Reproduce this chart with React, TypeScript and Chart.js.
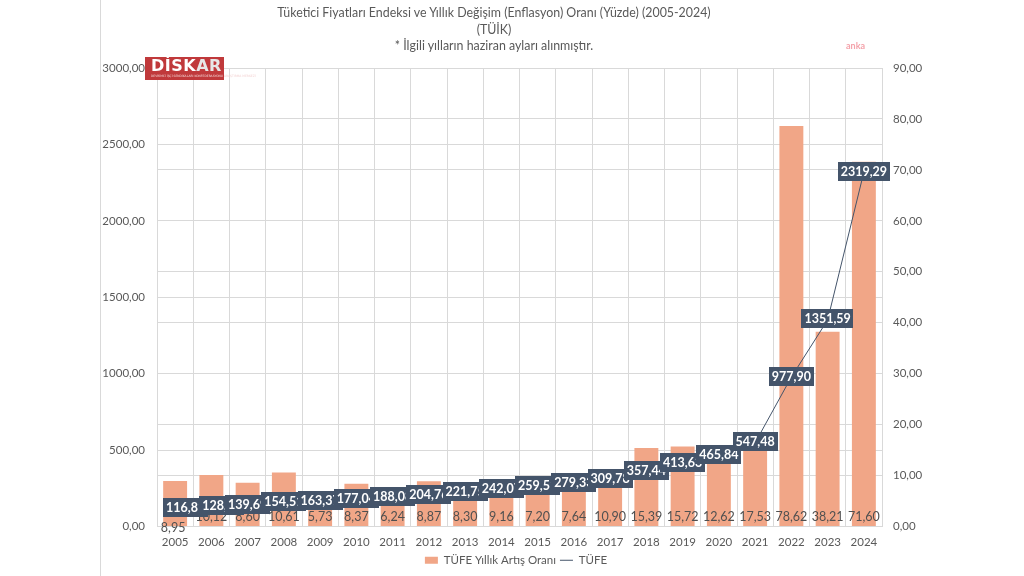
import React, { useEffect, useRef } from "react";
import { Chart, registerables } from "chart.js";

Chart.register(...registerables);

const years: string[] = ["2005", "2006", "2007", "2008", "2009", "2010", "2011", "2012", "2013", "2014", "2015", "2016", "2017", "2018", "2019", "2020", "2021", "2022", "2023", "2024"];
const tufeIndex: number[] = [116.81, 128.62, 139.69, 154.51, 163.37, 177.04, 188.08, 204.76, 221.75, 242.07, 259.51, 279.33, 309.78, 357.44, 413.63, 465.84, 547.48, 977.9, 1351.59, 2319.29];
const annualRate: number[] = [8.95, 10.12, 8.6, 10.61, 5.73, 8.37, 6.24, 8.87, 8.3, 9.16, 7.2, 7.64, 10.9, 15.39, 15.72, 12.62, 17.53, 78.62, 38.21, 71.6];
const titleLines: string[] = [
  "Tüketici Fiyatları Endeksi ve Yıllık Değişim (Enflasyon) Oranı (Yüzde) (2005-2024)",
  "(TÜİK)",
  "* İlgili yılların haziran ayları alınmıştır.",
];
const barLabel = "TÜFE Yıllık Artış Oranı";
const lineLabel = "TÜFE";

const FONT = "Lato, 'Open Sans', sans-serif";
const GREY = "#595959";
const GRID = "#D9D9D9";
const BAR = "#F1A687";
const NAVY = "#44546A";

const fmt = (v: number) => v.toFixed(2).replace(".", ",");

const labelPlugin = {
  id: "valueLabels",
  afterDatasetsDraw(chart: any) {
    const ctx = chart.ctx;
    const area = chart.chartArea;
    // bar labels (inside base)
    const barMeta = chart.getDatasetMeta(0);
    ctx.save();
    ctx.font = `12.5px ${FONT}`;
    ctx.fillStyle = "#505050";
    ctx.textAlign = "center";
    ctx.textBaseline = "middle";
    barMeta.data.forEach((el: any, i: number) => {
      const y = i === 0 ? area.bottom + 1 : area.bottom - 10;
      const x = i === 0 ? el.x - 2 : el.x;
      ctx.fillText(fmt(annualRate[i]), x, y);
    });
    ctx.restore();
    // line labels (boxed, centered, kept inside the plot)
    const lineMeta = chart.getDatasetMeta(1);
    ctx.save();
    ctx.font = `bold 12.5px ${FONT}`;
    ctx.textBaseline = "middle";
    ctx.textAlign = "center";
    let prevShift = 0;
    lineMeta.data.forEach((el: any, i: number) => {
      const t = fmt(tufeIndex[i]);
      const w = ctx.measureText(t).width + 6;
      const h = 19;
      let cx = el.x;
      if (cx - w / 2 < area.left + 6) cx = area.left + 6 + w / 2;
      if (cx + w / 2 > area.right + 16) cx = area.right + 16 - w / 2;
      const shift = cx - el.x;
      if (shift === 0 && prevShift > 0) cx += prevShift;
      prevShift = shift;
      const cy = el.y - 1;
      ctx.fillStyle = NAVY;
      ctx.fillRect(Math.round(cx - w / 2), Math.round(cy - h / 2), Math.round(w), h);
      ctx.fillStyle = "#FFFFFF";
      ctx.fillText(t, cx, cy + 0.5);
    });
    ctx.restore();
  },
};

export default function App() {
  const ref = useRef<HTMLCanvasElement | null>(null);

  useEffect(() => {
    if (!ref.current) return;
    const chart = new Chart(ref.current, {
      type: "bar",
      data: {
        labels: years,
        datasets: [
          {
            type: "bar",
            label: barLabel,
            data: annualRate,
            backgroundColor: BAR,
            yAxisID: "y1",
            barPercentage: 0.66,
            categoryPercentage: 1,
            order: 2,
            pointStyle: "rect",
          } as any,
          {
            type: "line",
            label: lineLabel,
            data: tufeIndex,
            borderColor: NAVY,
            backgroundColor: NAVY,
            borderWidth: 1,
            pointRadius: 0,
            pointStyle: "line",
            yAxisID: "y",
            order: 1,
          } as any,
        ],
      },
      options: {
        responsive: false,
        animation: false,
        devicePixelRatio: 1,
        layout: { padding: { left: 100, right: 92, top: 68, bottom: 0 } },
        plugins: {
          title: { display: false },
          tooltip: { enabled: false },
          legend: {
            display: true,
            position: "bottom",
            labels: {
              usePointStyle: true,
              pointStyleWidth: 13,
              boxHeight: 7,
              padding: 4,
              color: GREY,
              font: { family: FONT, size: 11.5 },
              sort: (a: any, b: any) => a.datasetIndex - b.datasetIndex,
            },
          },
        },
        scales: {
          x: {
            offset: true,
            grid: { offset: true, color: GRID, drawTicks: false },
            border: { color: GRID },
            ticks: { color: GREY, font: { family: FONT, size: 11.5 }, padding: 9, maxRotation: 0 },
            afterFit: (s: any) => {
              s.height = 24;
            },
          },
          y: {
            position: "left",
            min: 0,
            max: 3000,
            grid: { color: GRID, drawTicks: false },
            border: { color: GRID },
            ticks: {
              stepSize: 500,
              color: GREY,
              padding: 12,
              font: { family: FONT, size: 11.5 },
              callback: (v: any) => fmt(Number(v)),
            },
            afterFit: (s: any) => {
              s.width = 57;
            },
          },
          y1: {
            position: "right",
            min: 0,
            max: 90,
            grid: { color: GRID, drawTicks: false, drawOnChartArea: true },
            border: { color: GRID },
            ticks: {
              stepSize: 10,
              color: GREY,
              padding: 11,
              font: { family: FONT, size: 11.5 },
              callback: (v: any) => fmt(Number(v)),
            },
            afterFit: (s: any) => {
              s.width = 50;
            },
          },
        },
      },
      plugins: [labelPlugin],
    } as any);
    return () => chart.destroy();
  }, []);

  return (
    <div style={{ position: "fixed", left: 0, top: 0, width: 1024, height: 576, background: "#fff", overflow: "hidden" }}>
      <div style={{ position: "absolute", left: 100, top: 0, width: 1, height: 576, background: "#D9D9D9" }} />
      <canvas ref={ref} width={1024} height={576} style={{ position: "absolute", left: 0, top: 0, width: 1024, height: 576 }} />
      <div
        style={{
          position: "absolute",
          left: 194,
          width: 600,
          top: 5,
          textAlign: "center",
          fontFamily: FONT,
          fontSize: 12.4,
          lineHeight: "16.5px",
          color: GREY,
        }}
      >
        {titleLines.map((t, i) => (
          <div key={i}>{t}</div>
        ))}
      </div>
      <div
        style={{
          position: "absolute",
          left: 145,
          top: 57,
          width: 79,
          height: 23,
          background: "#C0393B",
          fontFamily: "'DejaVu Sans', sans-serif",
          fontWeight: "bold",
          lineHeight: "17px",
          textAlign: "left",
          boxSizing: "border-box",
          paddingLeft: 6,
        }}
      >
        <span style={{ color: "#fff", fontSize: 16, letterSpacing: 0.5 }}>DİSK</span>
        <span style={{ color: "#E7E7E7", fontSize: 16, letterSpacing: 0.5 }}>AR</span>
        <div style={{ fontSize: 3, lineHeight: "4px", color: "#F3D3D3", fontWeight: "normal", whiteSpace: "nowrap" }}>
          DEVRİMCİ İŞÇİ SENDİKALARI KONFEDERASYONU ARAŞTIRMA MERKEZİ
        </div>
      </div>
      <div
        style={{
          position: "absolute",
          left: 846,
          top: 40,
          fontFamily: FONT,
          fontSize: 9,
          color: "#F4A3AB",
          fontWeight: "bold",
        }}
      >
        anka
      </div>
    </div>
  );
}
